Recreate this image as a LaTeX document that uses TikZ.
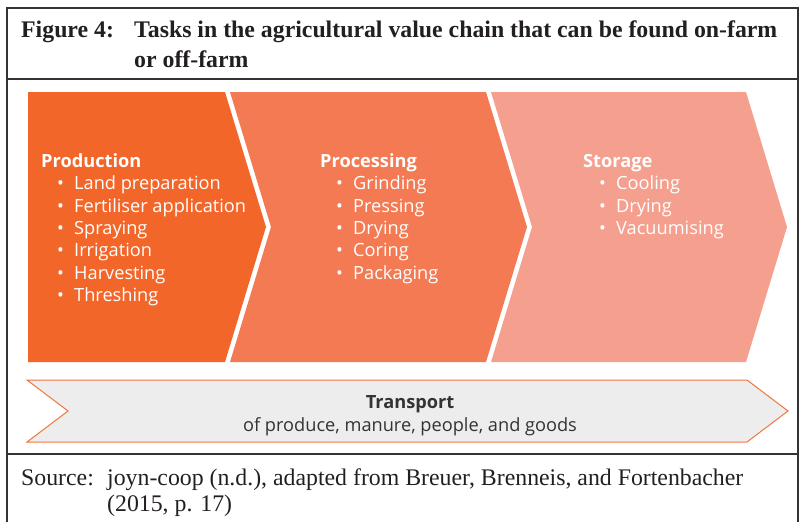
\documentclass[tikz,border=0pt]{standalone}
\usepackage{fontspec}
\setmainfont{Liberation Serif}
\newfontfamily\chainfont{Open Sans}
\usetikzlibrary{positioning}

\definecolor{framegrey}{RGB}{51,51,51}
\definecolor{productionorange}{RGB}{243,102,42}
\definecolor{processingorange}{RGB}{243,122,83}
\definecolor{storagesalmon}{RGB}{245,160,143}
\definecolor{transportgrey}{RGB}{237,237,237}
\definecolor{transportedge}{RGB}{241,117,64}
\definecolor{inkgrey}{RGB}{35,31,32}

\tikzset{frameline/.style={draw=framegrey,line width=1.3pt},
    titletext/.style={anchor=base west,inner sep=0,text=inkgrey,font=\fontsize{23.8}{29.5}\selectfont\bfseries},
    sourcetext/.style={anchor=base west,inner sep=0,text=inkgrey,font=\fontsize{23.8}{26}\selectfont},
    headtext/.style={anchor=base west,inner sep=0,text=white,font=\chainfont\fontsize{18.2}{22}\selectfont\bfseries},
    tasktext/.style={anchor=base west,inner sep=0,text=white,font=\chainfont\fontsize{18.2}{22}\selectfont},
    transporthead/.style={inner sep=0,text=black!80,font=\chainfont\fontsize{18.2}{22}\selectfont\bfseries},
    transporttext/.style={inner sep=0,text=black!80,font=\chainfont\fontsize{18.2}{22}\selectfont}
}

\newcommand{\chainstep}[4]
{
% args: (left x, right x, fill colour, depth of left notch)
    \fill [#3] (#1,92) -- (#2,92) -- (#2+41,227) -- (#2,362) -- (#1,362) -- (#1+#4,227) -- cycle;
}
\newcommand{\steptasks}[3]
{
% args: (x of heading, heading, list of tasks)
    \node (#2) [headtext] at (#1,167.5) {#2};
    \foreach \task [count=\i, evaluate=\i as \y using 167.5+22.3*\i] in {#3}
    {
        \node (#2dot\i) [tasktext] at (#1+16,\y) {\textbullet};
        \node (#2task\i) [tasktext] at (#1+33,\y) {\task};
    }
}

\begin{document}
\begin{tikzpicture}[x=1pt,y=-1pt]
\useasboundingbox (0,0) rectangle (799,522);

% frame
\draw [frameline] (7,522) -- (7,8) -- (798,8) -- (798,522);
\draw [frameline] (7,79) -- (798,79);
\draw [frameline] (7,454) -- (798,454);

% title
\node (figlabel) [titletext] at (21,37.5) {Figure 4:};
\node (figtitle) [titletext] at (134,37.5) {Tasks in the agricultural value chain that can be found on-farm};
\node (figtitlecont) [titletext] at (134,67.5) {or off-farm};

% value chain
\chainstep{28}{225}{productionorange}{0}
\chainstep{230}{486}{processingorange}{41}
\chainstep{491}{746}{storagesalmon}{41}

\steptasks{41}{Production}{Land preparation,Fertiliser application,Spraying,Irrigation,Harvesting,Threshing}
\steptasks{320}{Processing}{Grinding,Pressing,Drying,Coring,Packaging}
\steptasks{583}{Storage}{Cooling,Drying,Vacuumising}

% transport
\draw [fill=transportgrey,draw=transportedge,line width=1pt] (27,380) -- (747,380) -- (788,411) -- (747,442) -- (27,442) -- (68,411) -- cycle;
\node (transport) [transporthead] at (410,404) {Transport};
\node (goods) [transporttext] at (410,426.5) {of produce, manure, people, and goods};

% source
\node (sourcelabel) [sourcetext] at (21,485) {Source:};
\node (sourceref) [sourcetext] at (107,485) {joyn-coop (n.d.), adapted from Breuer, Brenneis, and Fortenbacher};
\node (sourceyear) [sourcetext] at (107,511.5) {(2015, p. 17)};

\end{tikzpicture}
\end{document}
